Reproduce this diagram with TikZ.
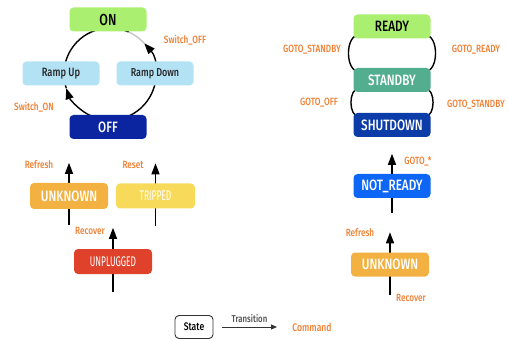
\documentclass[tikz,border=0pt]{standalone}
\usepackage{fontspec}
\setmainfont{Fira Sans}
\newfontfamily\dinfont{Fira Sans Medium}[FakeStretch=0.78]
\newfontfamily\dinnarrow{Fira Sans}[FakeStretch=0.6]
\usetikzlibrary{positioning, arrows.meta, backgrounds}
\definecolor{cmdorange}{HTML}{EF7F33}
\definecolor{stgreen}{HTML}{AAEF70}
\definecolor{stsky}{HTML}{B3E2F5}
\definecolor{stnavy}{HTML}{0B25A0}
\definecolor{stteal}{HTML}{52AE8F}
\definecolor{stdeep}{HTML}{0C3CA8}
\definecolor{stamber}{HTML}{F2B140}
\definecolor{styellow}{HTML}{F8DA5B}
\definecolor{stred}{HTML}{E0412B}
\definecolor{stblue}{HTML}{0E66F6}

\begin{document}
\begin{tikzpicture}[x=1pt, y=1pt,
    state/.style={rounded corners=4pt, minimum width=77pt, minimum height=24pt,
      inner sep=0pt, font=\dinfont\fontsize{15}{15}\selectfont},
    cmd/.style={text=cmdorange, inner sep=0pt, font=\dinfont\fontsize{10.5}{10.5}\selectfont},
    flow/.style={line width=1.3pt, -{Triangle[width=8pt,length=11pt]}},
    ringline/.style={line width=1.4pt}]
    \useasboundingbox (0,0) rectangle (508,340);
    % Anel de rampas
    \node[state, fill=stgreen, text=black, font=\dinfont\fontsize{16}{16}\selectfont] (on) at (108,320.5) {ON};
    \node[state, fill=stsky, text=black!85, font=\dinfont\fontsize{12}{12}\selectfont] (rampup) at (61,266.5) {Ramp Up};
    \node[state, fill=stsky, text=black!85, font=\dinfont\fontsize{11.5}{11.5}\selectfont] (rampdown) at (155,266.5) {Ramp Down};
    \node[state, fill=stnavy, text=white] (off) at (108,213) {OFF};
    \coordinate (ring) at (110,266);
    \node[cmd] (swoff) at (185,300) {Switch\_OFF};
    \node[cmd] (swon) at (34,233) {Switch\_ON};
    % Estados de prontidao
    \node[state, fill=stgreen, text=black] (ready) at (392,313.5) {READY};
    \node[state, fill=stteal, text=white] (standby) at (392,260) {STANDBY};
    \node[state, fill=stdeep, text=white] (shutdown) at (392,215) {SHUTDOWN};
    \node[cmd] (gsbl) at (312,290) {GOTO\_STANDBY};
    \node[cmd] (grdy) at (476,290) {GOTO\_READY};
    \node[cmd] (goff) at (319,237) {GOTO\_OFF};
    \node[cmd] (gsbr) at (476,235) {GOTO\_STANDBY};
    % Estados de falha
    \node[state, fill=stamber, text=white, minimum width=78pt, minimum height=26pt] (unkA) at (69,144) {UNKNOWN};
    \node[state, fill=styellow, text=white, minimum width=79pt, minimum height=25pt,
      font=\dinnarrow\fontsize{14}{14}\selectfont] (tripped) at (155.5,144) {TRIPPED};
    \node[state, fill=stred, text=white, minimum width=78pt, minimum height=25pt,
      font=\dinnarrow\fontsize{14}{14}\selectfont] (unplugged) at (113,78.5) {UNPLUGGED};
    \node[cmd] (refA) at (39,175) {Refresh};
    \node[cmd] (reset) at (133,175) {Reset};
    \node[cmd] (recA) at (90,109) {Recover};
    \node[state, fill=stblue, text=white] (notready) at (392,154) {NOT\_READY};
    \node[state, fill=stamber, text=white, minimum width=78pt] (unkB) at (390,75.5) {UNKNOWN};
    \node[cmd] (gany) at (418,179) {GOTO\_*};
    \node[cmd] (refB) at (360,107) {Refresh};
    \node[cmd] (recB) at (411,42) {Recover};
    % Legenda
    \node[state, draw=black!80, line width=0.9pt, fill=white, text=black, minimum width=38pt,
      minimum height=23pt, font=\dinfont\fontsize{11}{11}\selectfont] (legstate) at (194,13) {State};
    \coordinate (leg-a) at (222,13);
    \coordinate (leg-b) at (277,13);
    \node[cmd, font=\dinfont\fontsize{11}{11}\selectfont] (legcmd) at (312,13) {Command};
    \draw[line width=1pt, black!80, -{Triangle[width=5pt,length=6pt]}] (leg-a) -- (leg-b)
      node[midway, above=4pt, inner sep=0pt, text=black!70, font=\dinfont\fontsize{10}{10}\selectfont] {Transition};
    % Setas por tras dos estados
    \coordinate[below=16pt of unkA] (unkA-in);
    \coordinate[above=20pt of unkA] (unkA-out);
    \coordinate[below=17pt of tripped] (tripped-in);
    \coordinate[above=20pt of tripped] (tripped-out);
    \coordinate[below=18pt of unplugged] (unplugged-in);
    \coordinate[above=21pt of unplugged] (unplugged-out);
    \coordinate[below=15pt of notready] (notready-in);
    \coordinate[above=20pt of notready] (notready-out);
    \coordinate[below=18pt of unkB] (unkB-in);
    \coordinate[above=20pt of unkB] (unkB-out);
    \begin{scope}[on background layer]
      \draw[flow] (unkA-in) -- (unkA-out);
      \draw[flow] (tripped-in) -- (tripped-out);
      \draw[flow] (unplugged-in) -- (unplugged-out);
      \draw[flow] (notready-in) -- (notready-out);
      \draw[flow] (unkB-in) -- (unkB-out);
      % anel
      \draw[ringline, -{Triangle[width=8pt,length=11pt]}] (ring) ++(240:46)
        arc[start angle=240, end angle=198, radius=46];
      \draw[ringline] (ring) ++(198:46) arc[start angle=198, end angle=66, radius=46];
      \draw[ringline, gray!45] (ring) ++(66:46) arc[start angle=66, end angle=42, radius=46];
      \draw[ringline, -{Triangle[width=8pt,length=11pt]}] (ring) ++(-120:46)
        arc[start angle=-120, end angle=42, radius=46];
      % lacos entre READY, STANDBY e SHUTDOWN
      \draw[ringline] ([xshift=6pt, yshift=4pt]ready.south west) to[out=180, in=180]
        ([xshift=6pt, yshift=-4pt]standby.north west);
      \draw[ringline] ([xshift=-6pt, yshift=4pt]ready.south east) to[out=0, in=0]
        ([xshift=-6pt, yshift=-4pt]standby.north east);
      \draw[ringline] ([xshift=6pt, yshift=4pt]standby.south west) to[out=180, in=180]
        ([xshift=6pt, yshift=-4pt]shutdown.north west);
      \draw[ringline] ([xshift=-6pt, yshift=4pt]standby.south east) to[out=0, in=0]
        ([xshift=-6pt, yshift=-4pt]shutdown.north east);
    \end{scope}
\end{tikzpicture}
\end{document}
